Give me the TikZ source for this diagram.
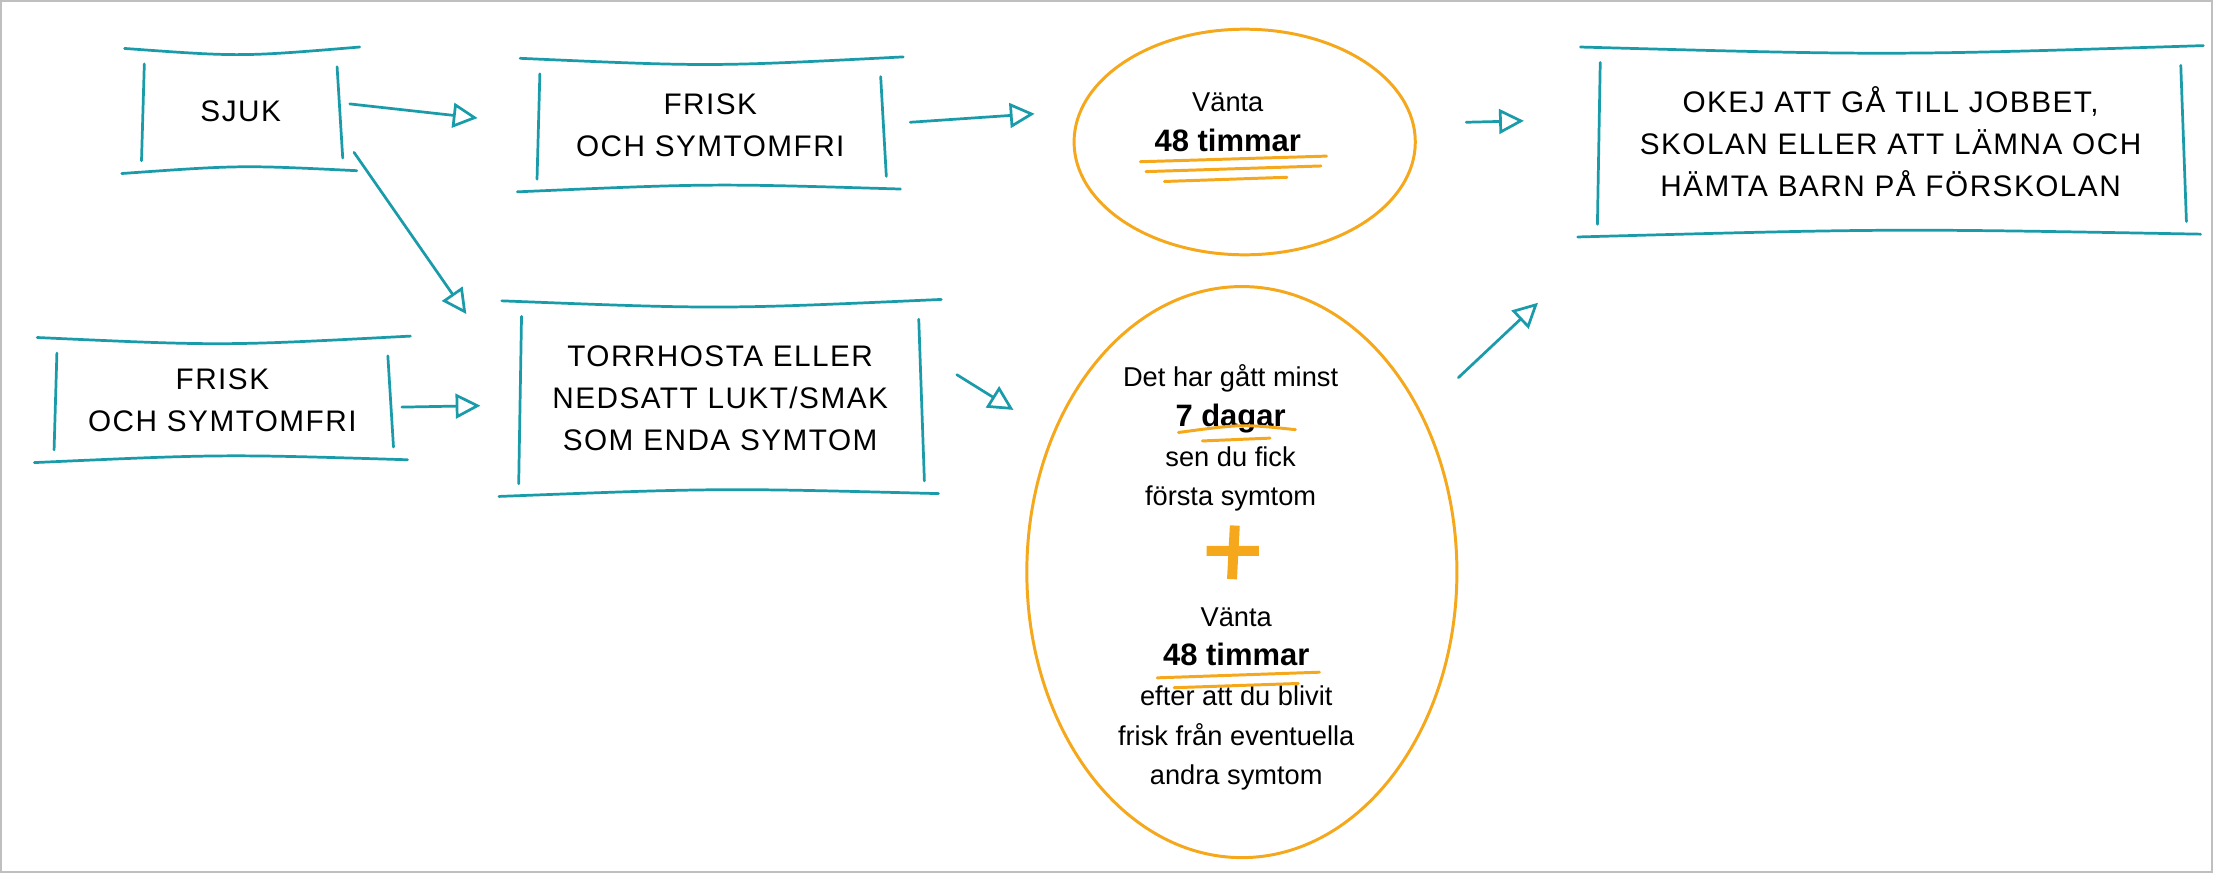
\documentclass[tikz,border=0pt]{standalone}
\usepackage{fontspec}
\setmainfont{Liberation Sans}
\newfontfamily\capsfont[LetterSpace=5]{Liberation Sans}
\usetikzlibrary{shapes.geometric,calc,arrows.meta}
\definecolor{teal1}{HTML}{1A9BAA}
\definecolor{orange1}{HTML}{F5A81C}
\tikzset{
    box/.style = {
        rectangle, align=center, draw=none,
        inner sep=0,
        font=\capsfont\fontsize{12}{17}\selectfont
    },
    sketch/.style = {draw=teal1, line width=1.1pt, line cap=round},
    flow/.style = {draw=teal1, line width=1.1pt, line cap=round,
        -{Triangle[open,length=10pt,width=10pt,line width=1.1pt]}},
    bubble/.style = {
        ellipse, draw=orange1, line width=1.2pt, inner sep=0
    },
    bubbletext/.style = {align=center, font=\fontsize{11}{16}\selectfont},
    scribble/.style = {draw=orange1, line width=1.2pt, line cap=round}
}
\newcommand{\sketchbox}[1]{
  \draw[sketch] ($(#1.north west)+(-12,-3)$) .. controls ($(#1.north)+(0,3)$) .. ($(#1.north east)+(14,-4)$);
  \draw[sketch] ($(#1.south west)+(-14,3)$) .. controls ($(#1.south)+(0,-3)$) .. ($(#1.south east)+(12,1)$);
  \draw[sketch] ($(#1.north west)+(2,8)$) -- ($(#1.south west)+(0,-6)$);
  \draw[sketch] ($(#1.north east)+(-2,10)$) -- ($(#1.south east)+(2,-8)$);
}

\begin{document}
\begin{tikzpicture}[x=0.02cm,y=-0.02cm]
\draw[gray!50, line width=0.8pt] (0,0) rectangle (1568,618);

% boxes
\node[box, minimum width=140*0.02cm, minimum height=82*0.02cm] (sjuk) at (170,78) {SJUK};
\node[box, minimum width=245*0.02cm, minimum height=88*0.02cm] (friskA) at (503,88) {FRISK\\OCH SYMTOMFRI};
\node[box, minimum width=238*0.02cm, minimum height=82*0.02cm] (friskB) at (157,283) {FRISK\\OCH SYMTOMFRI};
\node[box, minimum width=285*0.02cm, minimum height=132*0.02cm] (torr) at (510,282) {TORRHOSTA ELLER\\NEDSATT LUKT/SMAK\\SOM ENDA SYMTOM};
\node[box, minimum width=415*0.02cm, minimum height=128*0.02cm] (okej) at (1340,100) {OKEJ ATT GÅ TILL JOBBET,\\SKOLAN ELLER ATT LÄMNA OCH\\HÄMTA BARN PÅ FÖRSKOLAN};
\foreach \b in {sjuk,friskA,friskB,torr,okej} {\sketchbox{\b}}

% bubbles
\node[bubble, minimum width=242*0.02cm, minimum height=160*0.02cm] (vanta) at (882,100) {};
\node[bubbletext] (vantaT) at (870,86) {Vänta\\\textbf{\fontsize{12.5}{16}\selectfont 48 timmar}};
\node[bubble, minimum width=305*0.02cm, minimum height=405*0.02cm] (minst) at (880,405) {};
\node[bubbletext] (minstA) at (872,310) {Det har gått minst\\\textbf{\fontsize{12.5}{16}\selectfont 7 dagar}\\sen du fick\\första symtom};
\node[bubbletext] (minstB) at (876,495) {Vänta\\\textbf{\fontsize{12.5}{16}\selectfont 48 timmar}\\efter att du blivit\\frisk från eventuella\\andra symtom};

% underlines and plus
\draw[scribble] (808,114) -- (940,110) (812,121) -- (936,117) (825,128) -- (912,125);
\draw[scribble] (835,306) .. controls (880,300) .. (918,304) (852,312) -- (900,310);
\draw[scribble] (820,480) -- (935,476) (832,487) -- (920,484);
\draw[orange1, line width=4pt] (875,372) -- (873,410) (855,390) -- (892,390);

% arrows
\draw[flow] (sjuk.east) ++(7,-5) -- (338,83);
\draw[flow] (friskA.east) ++(19,-2) -- (733,80);
\draw[flow] (vanta.east) ++(35,-14) -- (1080,85);
\draw[flow] (sjuk.south east) ++(10,-12) -- (330,222);
\draw[flow] (friskB.east) ++(8,5) -- (340,287);
\draw[flow] (torr.east) ++(25,-17) -- (718,290);
\draw[flow] (minst.north east) ++(45,6) -- (1090,214);

\end{tikzpicture}
\end{document}
